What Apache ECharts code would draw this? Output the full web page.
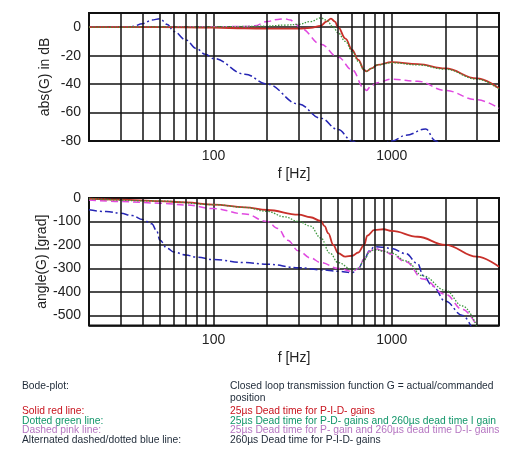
<!DOCTYPE html>
<html>
<head>
<meta charset="utf-8">
<script src="https://cdn.jsdelivr.net/npm/echarts@6/dist/echarts.min.js"></script>
<style>
html, body { margin: 0; padding: 0; background: #fff; }
#bode { width: 507px; height: 459px; }
</style>
</head>
<body>
<div id="bode"></div>
<script>
// magnitude, abs(G) in dB
var redMagF   = [20, 50, 100, 150, 200, 300, 350, 400, 430, 456, 480, 500, 550, 600, 650, 700, 720, 770, 830, 1000, 1400, 2000, 3000, 4000];
var redMagDb  = [0, 0, -0.3, -0.8, -1, -1, -0.5, 1, 4, 6, 4, 0, -8, -16, -23, -30, -31, -29, -26.5, -24.5, -26, -29, -36, -43];
var greenMagF  = [20, 100, 150, 200, 250, 300, 350, 400, 430, 470, 500, 550, 600, 650, 700, 720, 770, 830, 1000, 1400, 2000, 3000, 4000];
var greenMagDb = [0, 0.3, 0.5, 0.8, 1.5, 2, 4, 6.5, 5, 0, -4, -10, -17, -24, -30, -31, -29, -26.5, -25, -26.5, -29.5, -36.5, -43.5];
var pinkMagF  = [20, 100, 150, 170, 200, 230, 250, 270, 290, 310, 400, 500, 600, 700, 720, 770, 830, 1000, 1400, 2000, 3000, 4000];
var pinkMagDb = [0, 0.3, 0.5, 1, 4, 5.5, 6, 5, 2, -1, -12, -21, -30, -43, -44.5, -41, -39, -36.5, -38, -44.5, -51, -57];
var blueMagF  = [20, 30, 35, 40, 45, 50, 55, 60, 70, 80, 90, 100, 150, 200, 300, 400, 500, 600, 700, 800, 1000, 1200, 1550, 1760, 2000];
var blueMagDb = [0, 0, 0.5, 2.5, 5, 6, 2, -3, -9, -15, -19, -22, -33, -40, -54, -64, -72, -80, -86, -87, -80, -76, -71.5, -80, -88];

// phase, angle(G) in grad
var redPhF   = [20, 30, 50, 70, 100, 150, 200, 300, 350, 400, 420, 440, 470, 500, 550, 600, 650, 700, 730, 800, 900, 1000, 1400, 2000, 3000, 4000];
var redPhG   = [-3, -7, -13, -19, -28, -40, -51, -71, -82, -98, -120, -150, -200, -235, -250, -246, -232, -200, -160, -136, -133, -140, -165, -200, -250, -293];
var greenPhF = [20, 50, 100, 150, 200, 250, 300, 350, 400, 450, 500, 600, 650, 700, 750, 800, 900, 1000, 1200, 1500, 2000, 2500, 3000];
var greenPhG = [-3, -13, -28, -40, -57, -80, -100, -120, -170, -235, -275, -305, -300, -265, -230, -220, -226, -235, -268, -332, -393, -460, -545];
var pinkPhF  = [20, 30, 50, 70, 100, 150, 200, 230, 260, 300, 350, 400, 500, 600, 650, 700, 750, 800, 900, 1000, 1200, 1500, 2000, 2500, 3000];
var pinkPhG  = [-8, -15, -22, -30, -45, -68, -100, -130, -180, -225, -255, -275, -300, -312, -300, -260, -228, -215, -225, -240, -272, -345, -410, -475, -545];
var bluePhF  = [20, 25, 30, 35, 40, 45, 48, 50, 55, 60, 70, 80, 100, 150, 200, 300, 400, 500, 600, 650, 700, 750, 800, 900, 1000, 1200, 1400, 1500, 1700, 2000, 2500, 2800];
var bluePhG  = [-50, -58, -65, -75, -92, -110, -140, -180, -215, -230, -243, -252, -262, -275, -282, -297, -306, -312, -318, -300, -262, -225, -207, -210, -215, -237, -280, -330, -375, -440, -500, -550];

// vertical grid lines between the decades
var minorFreqs = [30, 40, 50, 60, 70, 80, 90, 200, 300, 400, 500, 600, 700, 800, 900, 2000, 3000];

var legendLeft  = ['Bode-plot:', '', 'Solid red line:', 'Dotted green line:', 'Dashed pink line:', 'Alternated dashed/dotted blue line:'];
var legendRight = ['Closed loop transmission function G = actual/commanded', 'position',
	'25\u00b5s Dead time for P-I-D- gains',
	'25\u00b5s Dead time for P-D- gains and 260\u00b5s dead time I gain',
	'25\u00b5s Dead time for P- gain and 260\u00b5s dead time D-I- gains',
	'260\u00b5s Dead time for P-I-D- gains'];
var legendColors = ['#1e2a38', '#1e2a38', '#c8141e', '#12966a', '#b676c2', '#1e2a38'];
var legendY = [386.5, 399, 412, 421.5, 431, 440.5];

function pairs(xs, ys) {
	return xs.map(function (x, i) { return [x, ys[i]]; });
}

var FONT = '"Liberation Sans", Arial, sans-serif';
var gridLine = { color: '#111', width: 1.5 };

function xAxisFor(idx) {
	return {
		type: 'log',
		gridIndex: idx,
		logBase: 10,
		min: 20,
		max: 4000,
		name: 'f [Hz]',
		nameLocation: 'middle',
		nameGap: 26,
		nameTextStyle: { fontFamily: FONT, fontSize: 14, color: '#222' },
		axisLine: { show: false },
		axisTick: { show: false },
		axisLabel: {
			fontFamily: FONT, fontSize: 14, color: '#222', margin: 8,
			showMinLabel: false, showMaxLabel: false,
			formatter: function (v) { return String(Math.round(v)); }
		},
		splitLine: { show: true, lineStyle: gridLine }
	};
}

function minorLines(idx) {
	return {
		type: 'line',
		xAxisIndex: idx,
		yAxisIndex: idx,
		data: [],
		silent: true,
		z: 1,
		markLine: {
			silent: true,
			symbol: ['none', 'none'],
			label: { show: false },
			lineStyle: { color: '#111', width: 1.5, type: 'solid' },
			data: minorFreqs.map(function (f) { return { xAxis: f }; })
		}
	};
}

function curve(name, idx, data, color, type, width) {
	return {
		name: name,
		type: 'line',
		xAxisIndex: idx,
		yAxisIndex: idx,
		data: data,
		showSymbol: false,
		smooth: 0.4,
		smoothMonotone: 'x',
		clip: true,
		z: 3,
		lineStyle: { color: color, type: type, width: width }
	};
}

var legendFont = '10.3px "Liberation Sans", Arial, sans-serif';
var graphics = [];
legendLeft.forEach(function (t, i) {
	if (!t) return;
	graphics.push({ type: 'text', left: 22, top: legendY[i] - 5.5,
		style: { text: t, fill: legendColors[i], font: legendFont } });
});
legendRight.forEach(function (t, i) {
	graphics.push({ type: 'text', left: 230, top: legendY[i] - 5.5,
		style: { text: t, fill: legendColors[i], font: legendFont } });
});

var chart = echarts.init(document.getElementById('bode'));
var option = {
	animation: false,
	backgroundColor: '#fff',
	grid: [
		{ left: 89, top: 13, width: 410, height: 128, show: true, borderColor: '#111', borderWidth: 2, backgroundColor: 'transparent' },
		{ left: 89, top: 198, width: 410, height: 127.5, show: true, borderColor: '#111', borderWidth: 2, backgroundColor: 'transparent' }
	],
	xAxis: [xAxisFor(0), xAxisFor(1)],
	yAxis: [{
		type: 'value',
		gridIndex: 0,
		min: -80,
		max: 10,
		interval: 20,
		name: 'abs(G) in dB',
		nameLocation: 'middle',
		nameGap: 37,
		nameMoveOverlap: false,
		nameTextStyle: { fontFamily: FONT, fontSize: 14, color: '#222' },
		axisLine: { show: false },
		axisTick: { show: false },
		axisLabel: { fontFamily: FONT, fontSize: 14, color: '#222', margin: 8, showMaxLabel: false },
		splitLine: { show: true, lineStyle: gridLine }
	}, {
		type: 'value',
		gridIndex: 1,
		min: -543,
		max: 0,
		splitNumber: 5,
		name: 'angle(G) [grad]',
		nameLocation: 'middle',
		nameGap: 40,
		nameMoveOverlap: false,
		nameTextStyle: { fontFamily: FONT, fontSize: 14, color: '#222' },
		axisLine: { show: false },
		axisTick: { show: false },
		axisLabel: { fontFamily: FONT, fontSize: 14, color: '#222', margin: 8, showMinLabel: false },
		splitLine: { show: true, lineStyle: gridLine }
	}],
	graphic: graphics,
	series: [
		minorLines(0),
		minorLines(1),
		curve('blue mag', 0, pairs(blueMagF, blueMagDb), '#2626b4', [8, 3, 2, 3], 1.5),
		curve('pink mag', 0, pairs(pinkMagF, pinkMagDb), '#e04ae0', [7, 4], 1.5),
		curve('red mag', 0, pairs(redMagF, redMagDb), '#c8302a', 'solid', 1.8),
		curve('green mag', 0, pairs(greenMagF, greenMagDb), '#3c963c', [1.5, 1.5], 1.3),
		curve('blue phase', 1, pairs(bluePhF, bluePhG), '#2626b4', [8, 3, 2, 3], 1.5),
		curve('pink phase', 1, pairs(pinkPhF, pinkPhG), '#e04ae0', [7, 4], 1.5),
		curve('red phase', 1, pairs(redPhF, redPhG), '#c8302a', 'solid', 1.8),
		curve('green phase', 1, pairs(greenPhF, greenPhG), '#3c963c', [1.5, 1.5], 1.3)
	]
};
chart.setOption(option);
</script>
</body>
</html>
